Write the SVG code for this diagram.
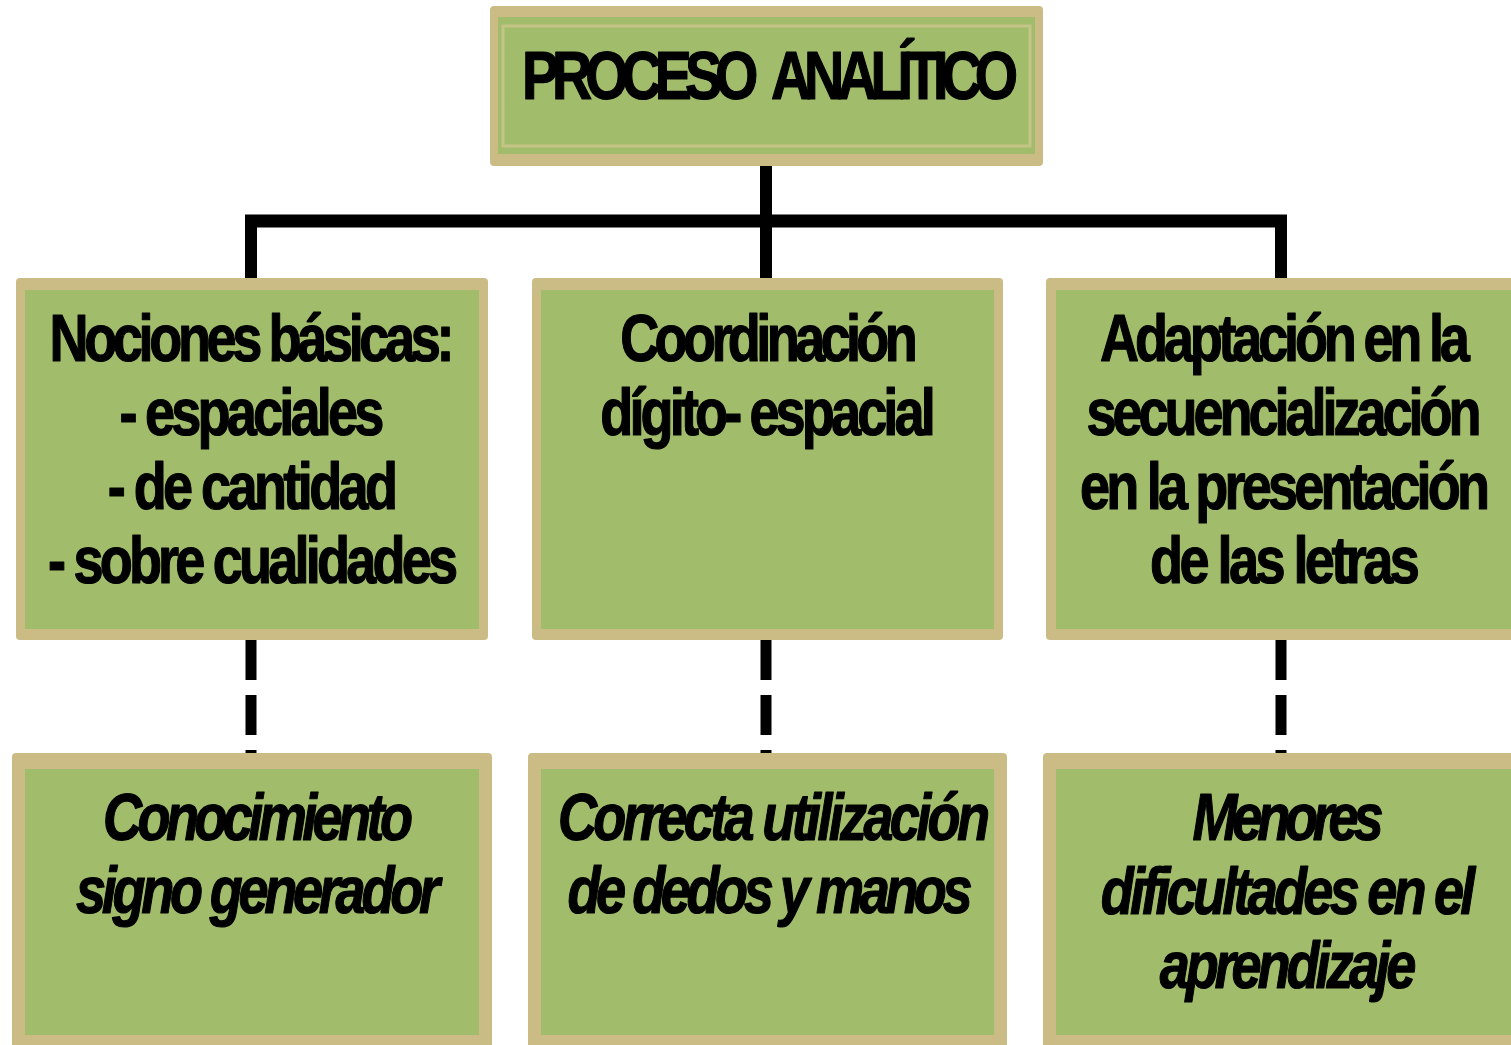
<svg xmlns="http://www.w3.org/2000/svg" width="1511" height="1045" viewBox="0 0 1511 1045">
<style>
.tan{fill:#CBBC85}
.grn{fill:#A1BC6A}
.t{font-family:"Liberation Sans",Arial,sans-serif;font-weight:bold;font-size:66px;fill:#000;stroke:#000;stroke-width:1.2;stroke-linejoin:round;text-anchor:middle}
.i{font-style:italic}
.solid{stroke:#000;fill:none;stroke-linecap:butt}
.dash{stroke:#000;stroke-width:11;fill:none;stroke-dasharray:40 15}
</style>
<rect width="1511" height="1045" fill="#fff"/>
<g id="connectors">
  <line class="solid" x1="766" y1="166" x2="766" y2="221" stroke-width="12"/>
  <line class="solid" x1="245" y1="221" x2="1287" y2="221" stroke-width="13"/>
  <line class="solid" x1="251" y1="215" x2="251" y2="278" stroke-width="12"/>
  <line class="solid" x1="766" y1="215" x2="766" y2="278" stroke-width="12"/>
  <line class="solid" x1="1281" y1="215" x2="1281" y2="278" stroke-width="12"/>
  <line class="dash" x1="251" y1="640" x2="251" y2="753"/>
  <line class="dash" x1="766" y1="640" x2="766" y2="753"/>
  <line class="dash" x1="1281" y1="640" x2="1281" y2="753"/>
</g>
<g id="node-top">
  <rect class="tan" x="490" y="6" width="553" height="160" rx="4"/>
  <rect class="grn" x="498" y="17" width="537" height="137"/>
  <rect x="503" y="26" width="527" height="120" fill="none" stroke="#C4C487" stroke-width="3"/>
  <text class="t" transform="translate(770 99) scale(0.82 1)" x="0" y="0" style="font-size:68px;word-spacing:16px" textLength="605" lengthAdjust="spacing">PROCESO ANALÍTICO</text>
</g>
<g id="node-nociones">
  <rect class="tan" x="16" y="278" width="472" height="362" rx="4"/>
  <rect class="grn" x="25" y="290" width="454" height="339"/>
  <text class="t" transform="translate(252 361) scale(0.82 1)" textLength="494" lengthAdjust="spacing">Nociones básicas:</text>
  <text class="t" transform="translate(252 435) scale(0.82 1)" textLength="323" lengthAdjust="spacing">- espaciales</text>
  <text class="t" transform="translate(253 509) scale(0.82 1)" textLength="354" lengthAdjust="spacing">- de cantidad</text>
  <text class="t" transform="translate(253 583) scale(0.82 1)" textLength="500" lengthAdjust="spacing">- sobre cualidades</text>
</g>
<g id="node-coordinacion">
  <rect class="tan" x="532" y="278" width="471" height="362" rx="4"/>
  <rect class="grn" x="541" y="290" width="453" height="339"/>
  <text class="t" transform="translate(769 361) scale(0.82 1)" textLength="363" lengthAdjust="spacing">Coordinación</text>
  <text class="t" transform="translate(768 435) scale(0.82 1)" textLength="409" lengthAdjust="spacing">dígito- espacial</text>
</g>
<g id="node-adaptacion">
  <rect class="tan" x="1046" y="278" width="480" height="362" rx="4"/>
  <rect class="grn" x="1056" y="290" width="470" height="339"/>
  <text class="t" transform="translate(1285 361) scale(0.82 1)" textLength="451" lengthAdjust="spacing">Adaptación en la</text>
  <text class="t" transform="translate(1284 435) scale(0.82 1)" textLength="482" lengthAdjust="spacing">secuencialización</text>
  <text class="t" transform="translate(1285 509) scale(0.82 1)" textLength="500" lengthAdjust="spacing">en la presentación</text>
  <text class="t" transform="translate(1285 583) scale(0.82 1)" textLength="329" lengthAdjust="spacing">de las letras</text>
</g>
<g id="node-conocimiento">
  <rect class="tan" x="12" y="753" width="480" height="300" rx="4"/>
  <rect class="grn" x="25" y="769" width="454" height="266"/>
  <text class="t i" transform="translate(258 840) scale(0.82 1)" textLength="378" lengthAdjust="spacing">Conocimiento</text>
  <text class="t i" transform="translate(258 913) scale(0.82 1)" textLength="444" lengthAdjust="spacing">signo generador</text>
</g>
<g id="node-correcta">
  <rect class="tan" x="528" y="753" width="479" height="300" rx="4"/>
  <rect class="grn" x="541" y="769" width="453" height="266"/>
  <text class="t i" transform="translate(774 840) scale(0.82 1)" textLength="527" lengthAdjust="spacing">Correcta utilización</text>
  <text class="t i" transform="translate(770 913) scale(0.82 1)" textLength="494" lengthAdjust="spacing">de dedos y manos</text>
</g>
<g id="node-menores">
  <rect class="tan" x="1043" y="753" width="480" height="300" rx="4"/>
  <rect class="grn" x="1056" y="769" width="470" height="266"/>
  <text class="t i" transform="translate(1288 840) scale(0.82 1)" textLength="233" lengthAdjust="spacing">Menores</text>
  <text class="t i" transform="translate(1288 914) scale(0.82 1)" textLength="457" lengthAdjust="spacing">dificultades en el</text>
  <text class="t i" transform="translate(1288 988) scale(0.82 1)" textLength="313" lengthAdjust="spacing">aprendizaje</text>
</g>
</svg>
